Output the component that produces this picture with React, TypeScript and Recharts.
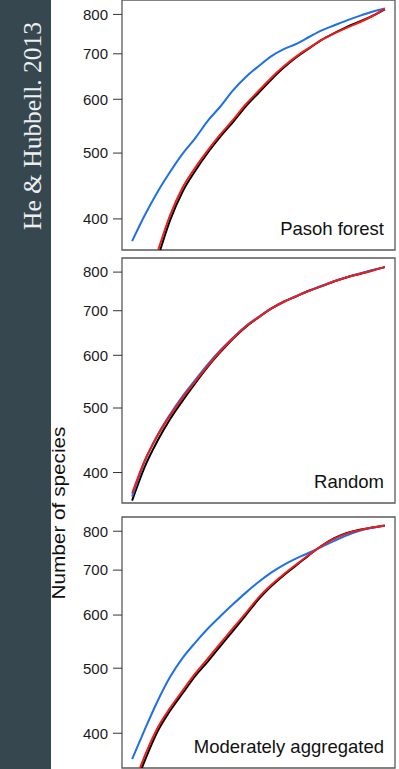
import React from 'react';
import { LineChart, Line, XAxis, YAxis, ReferenceArea } from 'recharts';

// sampling steps (share of plots sampled, %)
const tGrid = [0, 5, 10, 15, 20, 25, 30, 35, 40, 45, 50, 55, 60, 65, 70, 75, 80, 85, 90, 95, 100];

// Pasoh forest
const pasohBlack = [null, 303, 349, 398, 439, 471, 501, 529, 556, 586, 613, 641, 668, 692, 713, 734, 751, 767, 781, 796, 814];
const pasohRed = [null, 312, 357, 405, 445, 476, 505, 533, 560, 590, 617, 645, 671, 694, 714, 734, 750, 765, 779, 795, 816];
const pasohBlue = [371, 405, 438, 469, 499, 526, 558, 586, 619, 647, 671, 694, 711, 724, 741, 758, 771, 784, 796, 807, 816];

// Random
const randomBlack = [363, 408, 446, 481, 513, 545, 577, 607, 636, 662, 684, 705, 722, 736, 750, 762, 775, 786, 795, 805, 814];
const randomRed = [372, 417, 454, 487, 518, 548, 579, 609, 637, 663, 684, 705, 722, 736, 750, 762, 775, 786, 795, 804, 814];
const randomBlue = [368, 416, 455, 489, 521, 551, 582, 611, 638, 664, 685, 705, 722, 737, 750, 763, 775, 786, 796, 805, 814];

// Moderately aggregated
const aggBlack = [325, 364, 402, 432, 459, 487, 512, 540, 569, 600, 633, 662, 688, 712, 737, 761, 781, 795, 804, 810, 815];
const aggRed = [330, 370, 407, 436, 463, 491, 517, 545, 574, 604, 637, 665, 690, 714, 738, 761, 780, 794, 803, 810, 816];
const aggBlue = [366, 405, 446, 485, 518, 546, 573, 598, 623, 648, 672, 694, 713, 729, 743, 758, 774, 789, 801, 810, 816];

const yTicks = [400, 500, 600, 700, 800];
const labels = ['Pasoh forest', 'Random', 'Moderately aggregated'];

const build = (black: (number | null)[], red: (number | null)[], blue: (number | null)[]) =>
  tGrid.map((t, i) => ({ t, black: black[i], red: red[i], blue: blue[i] }));

const SANS = '"Liberation Sans", Arial, Helvetica, sans-serif';

const Panel: React.FC<{
  top: number;
  plotH: number;
  domain: [number, number];
  data: any[];
  label: string;
}> = ({ top, plotH, domain, data, label }) => {
  const mt = 12;
  const mb = 12;
  return (
    <div style={{ position: 'absolute', left: 60, top: top - mt }}>
      <LineChart width={340} height={plotH + mt + mb} data={data} margin={{ top: mt, right: 5, bottom: mb, left: 0 }}>
        <XAxis dataKey="t" type="number" domain={[-4, 104]} hide allowDataOverflow />
        <YAxis
          scale="log"
          domain={domain}
          allowDataOverflow
          ticks={yTicks}
          width={62}
          axisLine={false}
          tickSize={9}
          tickMargin={5}
          tickLine={{ stroke: '#333', strokeWidth: 1 }}
          tick={{ fontSize: 15, fill: '#1a1a1a', fontFamily: SANS }}
        />
        <ReferenceArea x1={-4} x2={104} y1={domain[0]} y2={domain[1]} fill="none" stroke="#5a5a5a" strokeWidth={1.3} />
        <Line type="monotone" dataKey="black" stroke="#000" strokeWidth={2} dot={false} isAnimationActive={false} />
        <Line type="monotone" dataKey="blue" stroke="#1f6fe6" strokeWidth={2} dot={false} isAnimationActive={false} />
        <Line type="monotone" dataKey="red" stroke="#ee1c1c" strokeWidth={2} dot={false} isAnimationActive={false} />
      </LineChart>
      <div
        style={{
          position: 'absolute',
          right: 16,
          top: mt + plotH - 32,
          fontFamily: SANS,
          fontSize: 18.5,
          color: '#111',
          whiteSpace: 'nowrap',
        }}
      >
        {label}
      </div>
    </div>
  );
};

const App: React.FC = () => {
  return (
    <div style={{ position: 'fixed', left: 0, top: 0, width: 399, height: 769, background: '#fff', overflow: 'hidden' }}>
      <svg width={72} height={769} style={{ position: 'absolute', left: 0, top: 0 }}>
        <rect x={0} y={0} width={51} height={769} fill="#37474f" />
        <text
          transform="rotate(-90)"
          x={-126}
          y={41}
          textAnchor="middle"
          fill="#eceff1"
          fontSize={25}
          fontFamily='"Liberation Serif", "DejaVu Serif", serif'
          textLength={208}
          lengthAdjust="spacingAndGlyphs"
        >
          He &amp; Hubbell. 2013
        </text>
        <text
          transform="rotate(-90)"
          x={-513}
          y={65}
          textAnchor="middle"
          fill="#111"
          fontSize={19}
          fontFamily={SANS}
          textLength={173}
          lengthAdjust="spacingAndGlyphs"
        >
          Number of species
        </text>
      </svg>
      <Panel top={0} plotH={250} domain={[360, 840]} data={build(pasohBlack, pasohRed, pasohBlue)} label={labels[0]} />
      <Panel top={258} plotH={245} domain={[360, 840]} data={build(randomBlack, randomRed, randomBlue)} label={labels[1]} />
      <Panel top={517} plotH={251} domain={[355, 840]} data={build(aggBlack, aggRed, aggBlue)} label={labels[2]} />
    </div>
  );
};

export default App;
